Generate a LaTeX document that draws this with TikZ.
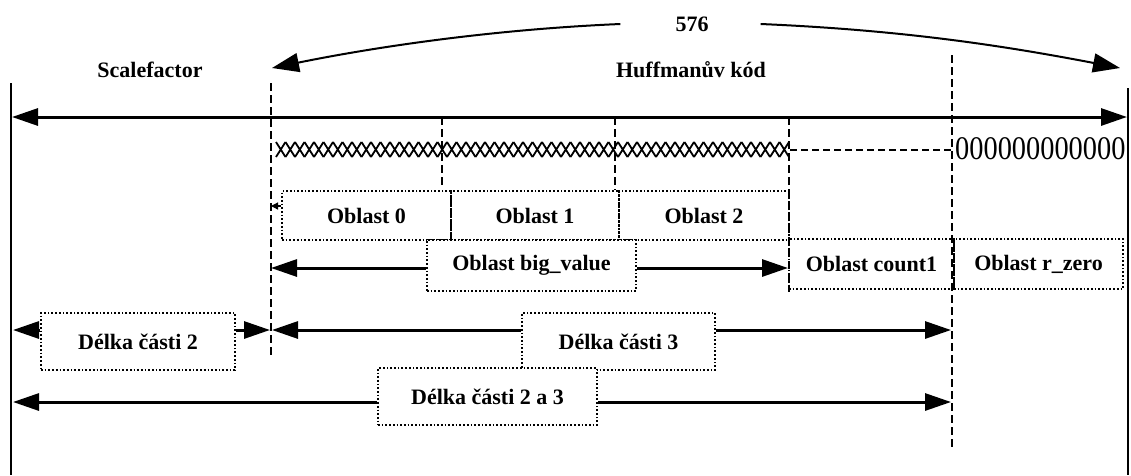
\documentclass[tikz,border=0pt]{standalone}
\usepackage{fontspec}
\setmainfont{Liberation Serif}
\usetikzlibrary{arrows.meta}
\tikzset{
  lbl/.style={font=\bfseries\fontsize{22}{26}\selectfont, inner sep=0pt},
  dbox/.style={draw, dotted, line width=1.7pt, font=\bfseries\fontsize{22}{26}\selectfont, inner sep=0pt, anchor=center},
  arr/.style={line width=3pt, -{Triangle[length=26pt,width=17pt]}},
  darr/.style={line width=3pt, {Triangle[length=26pt,width=17pt]}-{Triangle[length=26pt,width=17pt]}},
  carr/.style={line width=2pt, -{Triangle[length=27pt,width=19pt]}},
  vdash/.style={line width=2.8pt, dash pattern=on 8pt off 4pt},
  border/.style={line width=2.6pt},
}
\begin{document}
\begin{tikzpicture}[x=1pt,y=-1pt]
\useasboundingbox (0,0) rectangle (1131,475);
% borders
\draw[border] (11,83) -- (11,475);
\draw[border] (1128,88) -- (1128,475);
% dashed verticals
\draw[vdash] (271,83) -- (271,357);
\draw[vdash] (952,55) -- (952,450);
\draw[vdash] (442,117) -- (442,188);
\draw[vdash] (615,117) -- (615,190);
\draw[vdash] (789,117) -- (789,292);
% top labels
\node[lbl] (n576) at (692,24) {576};
\node[lbl] (sf) at (150,70) {Scalefactor};
\node[lbl] (hk) at (691,70) {Huffmanův kód};
\coordinate (cl) at (272,68);
\coordinate (cr) at (1120,68);
\draw[carr] (n576.west) ++(-55,0) coordinate (cls) .. controls (480,30) and (360,50) .. (cl);
\draw[carr] (n576.east) ++(52,0) coordinate (crs) .. controls (900,30) and (1000,45) .. (cr);
% main arrow
\coordinate (ml) at (12,117);
\coordinate (mr) at (1127,117);
\draw[darr] (ml) -- (mr);
% hatched band
\foreach \i in {0,...,53}{
  \pgfmathsetmacro{\xa}{276+\i*9.5}
  \pgfmathsetmacro{\xb}{\xa+9.5}
  \draw[line width=1.8pt] (\xa,142) -- (\xb,157) (\xa,157) -- (\xb,142);
}
\draw[line width=2.2pt, dash pattern=on 7pt off 4pt] (790,150) -- (952,150);
\node[inner sep=0pt, anchor=west, font=\fontsize{33}{36}\selectfont] (zeros) at (955,149) {\scalebox{0.86}[1]{000000000000}};
% region boxes
\node[dbox, minimum width=169pt, minimum height=49pt] (o0) at (366.5,215.5) {Oblast 0};
\node[dbox, minimum width=168pt, minimum height=49pt] (o1) at (535,215.5) {Oblast 1};
\node[dbox, minimum width=170pt, minimum height=49pt] (o2) at (704,215.5) {Oblast 2};
\coordinate (t0) at (271,206);
\draw[line width=1.2pt, -{Triangle[length=7pt,width=7pt]}] (o0.west |- t0) -- (t0);
\node[dbox, fill=white, minimum width=209pt, minimum height=51pt] (bv) at (531.5,265.5) {Oblast big\_value};
\node[dbox, minimum width=165pt, minimum height=50pt] (c1) at (871.5,264) {Oblast count1};
\node[dbox, minimum width=169pt, minimum height=50pt] (rz) at (1038.5,264) {Oblast r\_zero};
\coordinate (bvl) at (271,268);
\coordinate (bvr) at (788,268);
\draw[arr] (bv.west |- bvl) -- (bvl);
\draw[arr] (bv.east |- bvr) -- (bvr);
% length boxes
\node[dbox, minimum width=194pt, minimum height=57pt] (d2) at (138,341.5) {Délka části 2};
\node[dbox, minimum width=193pt, minimum height=57pt] (d3) at (618.5,341.5) {Délka části 3};
\node[dbox, fill=white, minimum width=219pt, minimum height=57pt] (d23) at (487.5,396.5) {Délka části 2 a 3};
\coordinate (a2l) at (13,330);
\coordinate (a2r) at (270,330);
\coordinate (a3l) at (272,330);
\coordinate (a3r) at (951,330);
\coordinate (a23l) at (13,402);
\coordinate (a23r) at (951,402);
\draw[arr] (d2.west |- a2l) -- (a2l);
\draw[arr] (d2.east |- a2r) -- (a2r);
\draw[arr] (d3.west |- a3l) -- (a3l);
\draw[arr] (d3.east |- a3r) -- (a3r);
\draw[arr] (d23.west |- a23l) -- (a23l);
\draw[arr] (d23.east |- a23r) -- (a23r);
\end{tikzpicture}
\end{document}
